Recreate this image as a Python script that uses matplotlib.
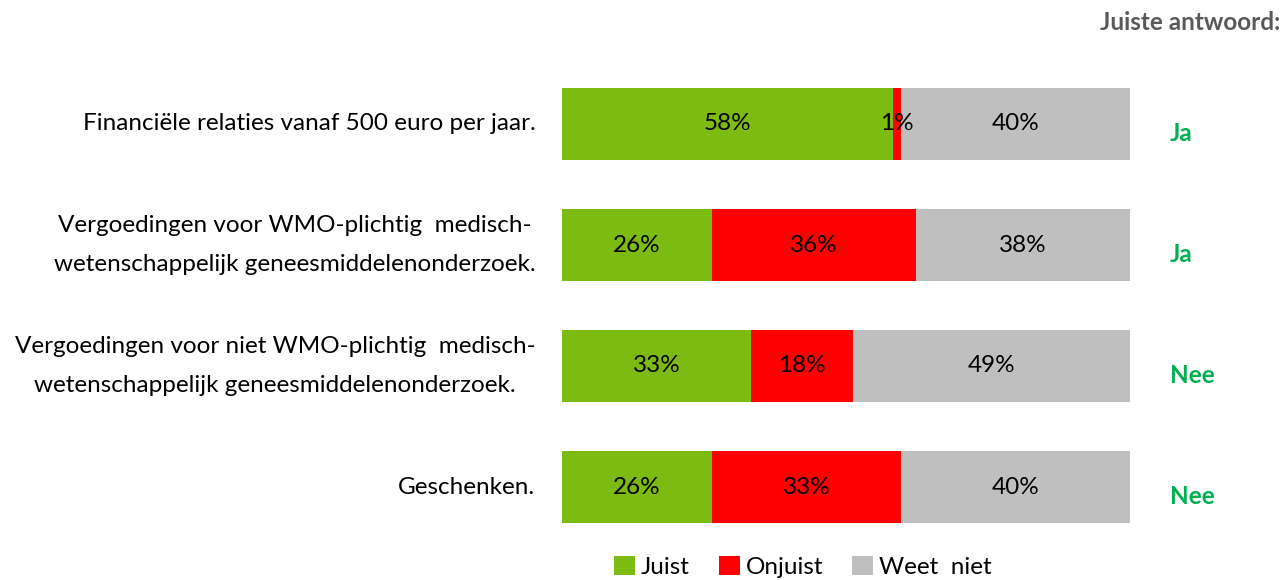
import matplotlib.pyplot as plt
import numpy as np

# data
items = ['Financiële relaties vanaf 500 euro per jaar.',
         'Vergoedingen voor WMO-plichtig  medisch-\nwetenschappelijk geneesmiddelenonderzoek.',
         'Vergoedingen voor niet WMO-plichtig  medisch-\nwetenschappelijk geneesmiddelenonderzoek.',
         'Geschenken.']
juist = [58.3, 26.4, 33.3, 26.4]
onjuist = [1.3, 36.0, 18.0, 33.3]
weet_niet = [40.4, 37.6, 48.7, 40.3]
labels_juist = ['58%', '26%', '33%', '26%']
labels_onjuist = ['1%', '36%', '18%', '33%']
labels_weet = ['40%', '38%', '49%', '40%']
antwoord = ['Ja', 'Ja', 'Nee', 'Nee']

plt.rcParams['font.family'] = ['Lato', 'DejaVu Sans']
fs = 17.5

fig = plt.figure(figsize=(12.83, 5.8), dpi=100)
ax = fig.add_axes([562/1283, 1-547.5/580, 568/1283, 484/580])

green = '#7cbb11'
red = '#ff0000'
grey = '#bfbfbf'
y = np.arange(len(items))
h = 0.603

b1 = ax.barh(y, juist, height=h, color=green, label='Juist')
b2 = ax.barh(y, onjuist, left=juist, height=h, color=red, label='Onjuist')
left3 = np.array(juist) + np.array(onjuist)
b3 = ax.barh(y, weet_niet, left=left3, height=h, color=grey, label='Weet  niet')

for bars, labs in [(b1, labels_juist), (b2, labels_onjuist), (b3, labels_weet)]:
    ax.bar_label(bars, labels=labs, label_type='center', fontsize=fs, color='black')

ax.set_xlim(0, 100)
ax.set_ylim(3.5, -0.5)
ax.axis('off')

for i, t in enumerate(items):
    ax.text(-0.047, i, t, transform=ax.get_yaxis_transform(), ha='right', va='center',
            multialignment='center', fontsize=fs, linespacing=2.1)
    ax.text(1.07, i + 0.075, antwoord[i], transform=ax.get_yaxis_transform(), ha='left',
            va='center', fontsize=fs, fontweight='bold', color='#00b050')

fig.text(1280/1283, 1-22/580, 'Juiste antwoord:', ha='right', va='center', fontsize=fs,
         fontweight='bold', color='#595959')

fig.legend(handles=[b1, b2, b3], loc='center', bbox_to_anchor=(803/1283, 1-567/580), ncol=3,
           frameon=False, fontsize=fs, handlelength=0.85, handleheight=0.85,
           handletextpad=0.25, columnspacing=1.2, borderpad=0)

fig.savefig('out.png', dpi=100)
